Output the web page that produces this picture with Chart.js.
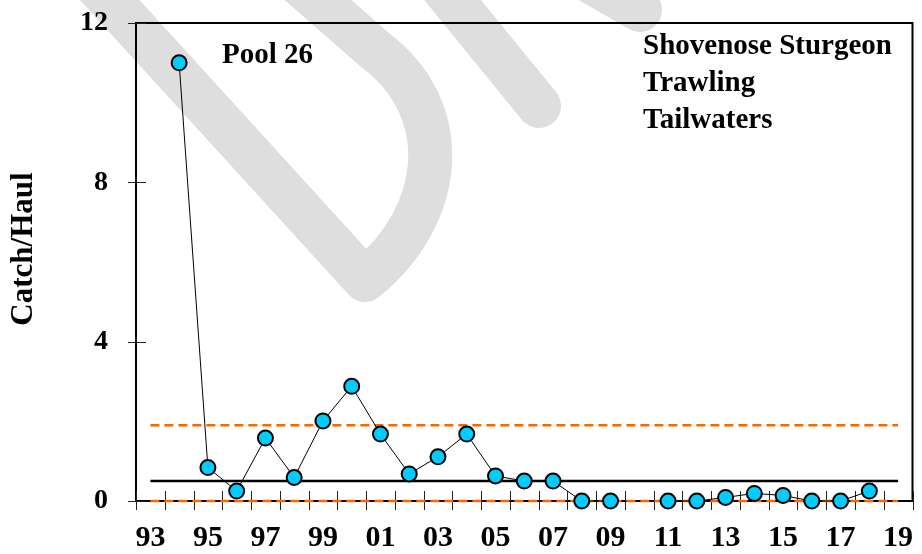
<!DOCTYPE html>
<html>
<head>
<meta charset="utf-8">
<script src="https://cdn.jsdelivr.net/npm/chart.js@4.4.1/dist/chart.umd.min.js"></script>
<style>
  html, body { margin: 0; padding: 0; background: #fff; }
  #wrap { width: 922px; height: 554px; }
</style>
</head>
<body>
<div id="wrap"><canvas id="catchChart"></canvas></div>
<script>
// survey years (2-digit), one category each
const years = ['93','94','95','96','97','98','99','00','01','02','03','04','05','06','07','08','09','10','11','12','13','14','15','16','17','18','19'];
// catch per haul, shovenose sturgeon, trawling tailwaters (null = no sample)
const catchPerHaul = [null, 11.0, 0.84, 0.25, 1.58, 0.59, 2.01, 2.88, 1.68, 0.68, 1.11, 1.68, 0.63, 0.50, 0.50, 0, 0, null, 0, 0, 0.09, 0.19, 0.14, 0, 0, 0.25, null];
// long-term mean and control limits
const meanValue = 0.50;
const upperLimit = 1.90;
const lowerLimit = 0;
const yTicks = [0, 4, 8, 12];

const serif = '"Liberation Serif", "Times New Roman", serif';
const orange = '#ff6600';

// gray DRAFT-style watermark behind everything
const watermark = {
	id: 'watermark',
	beforeDraw(chart) {
		const ctx = chart.ctx;
		ctx.save();
		ctx.strokeStyle = '#dedede';
		ctx.lineWidth = 44;
		ctx.lineCap = 'round';
		ctx.lineJoin = 'round';
		ctx.beginPath();
		ctx.moveTo(55, -60);
		ctx.lineTo(365, 280);
		ctx.bezierCurveTo(445, 215, 455, 110, 375, 50);
		ctx.lineTo(270, -42);
		ctx.stroke();
		ctx.beginPath();
		ctx.moveTo(402, -62);
		ctx.lineTo(539, 106);
		ctx.stroke();
		ctx.beginPath();
		ctx.moveTo(553, -40);
		ctx.lineTo(640, 10);
		ctx.stroke();
		ctx.restore();
	}
};

// frame, crossing tick marks, text labels
const decor = {
	id: 'decor',
	beforeDatasetsDraw(chart) {
		const { ctx, chartArea: a, scales: { x, y } } = chart;
		ctx.save();
		ctx.strokeStyle = '#000';
		ctx.lineWidth = 2;
		ctx.beginPath();
		ctx.moveTo(a.left, a.top);
		ctx.lineTo(a.right, a.top);
		ctx.lineTo(a.right, a.bottom);
		ctx.stroke();

		ctx.lineWidth = 1;
		ctx.strokeStyle = '#222';
		ctx.beginPath();
		for (let i = 0; i <= years.length; i++) {
			const px = Math.round(x.getPixelForValue(i - 0.5)) + 0.5;
			ctx.moveTo(px, a.bottom - 10);
			ctx.lineTo(px, a.bottom + 9);
		}
		yTicks.forEach(v => {
			const py = Math.round(y.getPixelForValue(v)) + 0.5;
			ctx.moveTo(a.left - 8, py);
			ctx.lineTo(a.left + 10, py);
		});
		ctx.stroke();
		ctx.restore();
	},
	afterDraw(chart) {
		const { ctx, chartArea: a } = chart;
		ctx.save();
		ctx.fillStyle = '#000';
		ctx.font = 'bold 29px ' + serif;
		ctx.textBaseline = 'alphabetic';
		ctx.textAlign = 'left';
		ctx.fillText('Pool 26', a.left + 86, 63);
		ctx.fillText('Shovenose Sturgeon', 643, 54);
		ctx.fillText('Trawling', 643, 91);
		ctx.fillText('Tailwaters', 643, 128);

		ctx.translate(24, 249);
		ctx.rotate(-Math.PI / 2);
		ctx.textAlign = 'center';
		ctx.textBaseline = 'middle';
		ctx.font = 'bold 31px ' + serif;
		ctx.fillText('Catch/Haul', 0, 0);
		ctx.restore();
	}
};

const ctx = document.getElementById('catchChart');
new Chart(ctx, {
	type: 'line',
	data: {
		labels: years,
		datasets: [
			{
				label: 'Catch/Haul',
				data: catchPerHaul,
				borderColor: '#000',
				borderWidth: 1,
				pointRadius: 7.5,
				pointBorderWidth: 2,
				pointBorderColor: '#000',
				pointBackgroundColor: '#00ccff',
				tension: 0,
				spanGaps: false,
				clip: false
			},
			{
				label: 'Mean',
				data: years.map(() => meanValue),
				borderColor: '#000',
				borderWidth: 2.5,
				pointRadius: 0
			},
			{
				label: 'Upper',
				data: years.map(() => upperLimit),
				borderColor: orange,
				borderWidth: 2.5,
				borderDash: [9, 5],
				pointRadius: 0
			},
			{
				label: 'Lower',
				data: years.map(() => lowerLimit),
				borderColor: orange,
				borderWidth: 2.5,
				borderDash: [9, 5],
				pointRadius: 0,
				clip: false
			}
		]
	},
	options: {
		responsive: true,
		maintainAspectRatio: false,
		animation: false,
		events: [],
		layout: { padding: { top: 23, right: 5, left: 0, bottom: 0 } },
		plugins: {
			legend: { display: false },
			tooltip: { enabled: false }
		},
		scales: {
			x: {
				type: 'category',
				offset: true,
				grid: { display: false },
				border: { display: true, color: '#000', width: 2 },
				afterFit: s => {
					s.height = 53;
					s.paddingLeft = 0;
					s.paddingRight = 0;
				},
				ticks: {
					autoSkip: false,
					maxRotation: 0,
					padding: 11,
					color: '#000',
					font: { family: serif, size: 30, weight: 'bold' },
					callback: (val, i) => (i % 2 === 0 ? years[i] : '')
				}
			},
			y: {
				min: 0,
				max: 12,
				grid: { display: false },
				border: { display: true, color: '#000', width: 2 },
				afterFit: s => {
					s.width = 136;
					s.paddingTop = 0;
					s.paddingBottom = 0;
				},
				afterBuildTicks: s => { s.ticks = yTicks.map(v => ({ value: v })); },
				ticks: {
					padding: 20,
					color: '#000',
					font: { family: serif, size: 28, weight: 'bold' }
				}
			}
		}
	},
	plugins: [watermark, decor]
});
</script>
</body>
</html>
